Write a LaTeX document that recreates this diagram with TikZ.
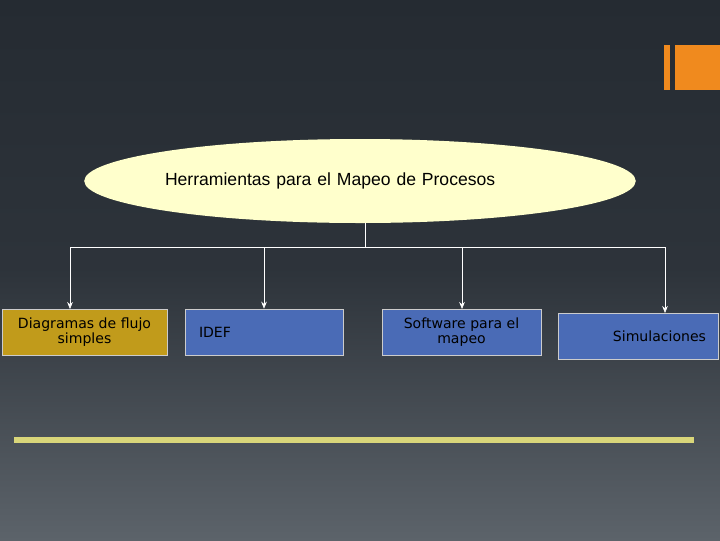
\documentclass[tikz,border=0pt]{standalone}
\usepackage{fontspec}
\setmainfont{Liberation Sans}
\newfontfamily\boxfont{DejaVu Sans}
\usetikzlibrary{shapes.geometric,positioning,arrows.meta}
\definecolor{bgtop}{HTML}{252B32}
\definecolor{bgbot}{HTML}{5C636A}
\definecolor{orng}{HTML}{F08A1E}
\definecolor{gold}{HTML}{C19B1B}
\definecolor{blu}{HTML}{4A6BB6}
\definecolor{cream}{HTML}{FFFFCC}
\definecolor{rule}{HTML}{D9D67A}
\tikzset{
    tool/.style={draw=white!80!black, minimum height=46*0.025cm, align=center,
        font=\boxfont\fontsize{10}{11}\selectfont, text=black},
    link/.style={draw=white, thin, -{Stealth[length=5pt,width=4pt]}}
}
\begin{document}
\begin{tikzpicture}[x=0.025cm,y=-0.025cm]
    \footnotesize
    \shade[top color=bgtop, bottom color=bgbot, middle color=bgtop!85!bgbot]
        (0,0) rectangle (720,540);
    \useasboundingbox (0,0) rectangle (720,540);
    \fill[orng] (664,45) rectangle (670,90);
    \fill[orng] (675,45) rectangle (720,90);

    \node[ellipse, fill=cream, minimum width=466*0.025cm, minimum height=84*0.025cm,
        inner sep=0pt, text width=390*0.025cm, align=left,
        font=\fontsize{12.5}{14}\selectfont] (root) at (360,181) {Herramientas para el Mapeo de Procesos};

    \node[tool, fill=gold, minimum width=165*0.025cm] (flujo) at (84.5,332) {Diagramas de flujo\\simples};
    \node[tool, fill=blu, minimum width=158*0.025cm, text width=130*0.025cm, align=left] (idef) at (264,332) {IDEF};
    \node[tool, fill=blu, minimum width=159*0.025cm] (soft) at (461.5,332) {Software para el\\mapeo};
    \node[tool, fill=blu, minimum width=160*0.025cm, text width=136*0.025cm, align=right] (sim) at (638,336) {Simulaciones};

    \coordinate (hub) at (365,247);
    \draw[white] (root.south -| hub) -- (hub);
    \draw[white] (70,247) -- (665,247);
    \draw[link] (70,247) -- (70,309);
    \draw[link] (264,247) -- (idef.north);
    \draw[link] (462,247) -- (462,309);
    \draw[link] (665,247) -- (665,313);

    \fill[rule] (14,437) rectangle (694,443);
\end{tikzpicture}
\end{document}
